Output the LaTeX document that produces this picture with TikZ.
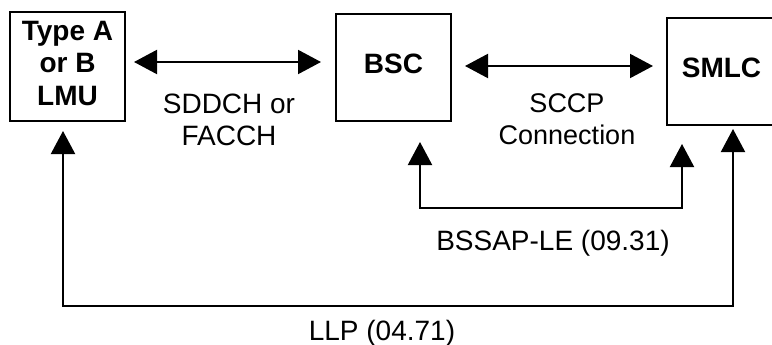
\documentclass[tikz,border=0pt]{standalone}
\usepackage{fontspec}
\setmainfont{Liberation Sans}
\usetikzlibrary{arrows.meta}
\tikzset{
  box/.style={draw, line width=2pt, inner sep=0pt, align=center,
    font=\bfseries\fontsize{28}{32.5}\selectfont},
  lbl/.style={inner sep=0pt, align=center, font=\fontsize{28}{32.5}\selectfont},
  conn/.style={line width=2pt, {Triangle[length=23pt,width=24pt]}-{Triangle[length=23pt,width=24pt]}}
}
\begin{document}
\begin{tikzpicture}[x=1pt,y=-1pt]
\useasboundingbox (0,0) rectangle (772,345);
\clip (0,0) rectangle (772,345);
\fill[white] (0,0) rectangle (772,345);
% boxes
\node[box, minimum width=115pt, minimum height=109pt] (lmu) at (67.5,66.5) {\strut Type A\\\strut or B\\\strut LMU};
\node[box, minimum width=115pt, minimum height=107pt] (bsc) at (393.5,67.5) {\strut BSC};
\node[box, minimum width=109pt, minimum height=107pt] (smlc) at (721.5,71.5) {\strut SMLC};
% helper coordinates
\coordinate (a1) at (0,62);
\coordinate (a2) at (0,66);
\coordinate (b1) at (420,208);
\coordinate (b2) at (682,208);
\coordinate (c1) at (63,306);
\coordinate (c2) at (733,306);
% connectors
\draw[conn, shorten <=8pt, shorten >=14pt] (lmu.east |- a1) -- (bsc.west |- a1);
\draw[conn, shorten <=13pt, shorten >=13pt] (bsc.east |- a2) -- (smlc.west |- a2);
\draw[conn] ([yshift=-20pt]bsc.south -| b1) -- (b1) -- (b2) -- ([yshift=-18pt]smlc.south -| b2);
\draw[conn] ([yshift=-9pt]lmu.south -| c1) -- (c1) -- (c2) -- ([yshift=-3pt]smlc.south -| c2);
% labels
\node[lbl] (l1) at (229,123) {\strut SDDCH or\\\strut FACCH};
\node[lbl, font=\fontsize{27}{32.5}\selectfont] (l2) at (567,122) {\strut SCCP\\\strut Connection};
\node[lbl] (l3) at (553,243.5) {\strut BSSAP-LE (09.31)};
\node[lbl] (l4) at (382,333.5) {\strut LLP (04.71)};
\end{tikzpicture}
\end{document}
